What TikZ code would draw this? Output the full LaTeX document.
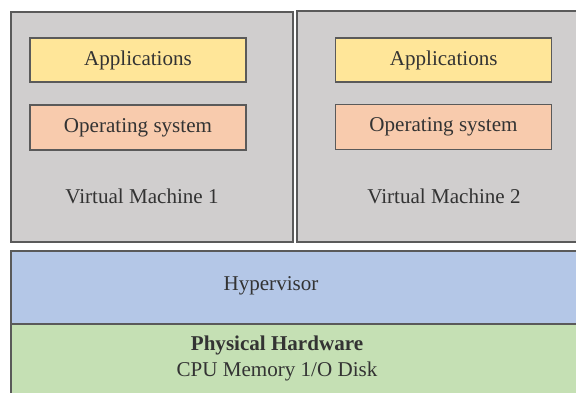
\documentclass[tikz,border=0pt]{standalone}
\usepackage{fontspec}
\setmainfont{Liberation Serif}
\definecolor{vmgray}{HTML}{D0CECE}
\definecolor{appyellow}{HTML}{FFE699}
\definecolor{ossalmon}{HTML}{F8CBAD}
\definecolor{hvblue}{HTML}{B4C7E7}
\definecolor{hwgreen}{HTML}{C5E0B4}
\definecolor{edgegray}{HTML}{5A5A5A}
\definecolor{inkgray}{HTML}{333333}

\begin{document}
\begin{tikzpicture}[x=0.75pt,y=-0.75pt,
  every node/.style={font=\fontsize{15.8}{19}\selectfont,text=inkgray},
  layer/.style={draw=edgegray,line width=0.9pt,rectangle,inner sep=0pt},
  vmbox/.style={layer,fill=vmgray,minimum width=211.5pt,minimum height=172.5pt},
  appbox/.style={layer,fill=appyellow,minimum width=162pt,minimum height=33pt},
  osbox/.style={layer,fill=ossalmon,minimum width=162pt,minimum height=33.75pt},
  hvbox/.style={layer,fill=hvblue,minimum width=434.25pt,minimum height=54.75pt},
  hwbox/.style={layer,fill=hwgreen,minimum width=434.25pt,minimum height=64.5pt}]
\useasboundingbox (0,0) rectangle (576,393);
\clip (0,0) rectangle (576,393);
% virtual machines
\node[vmbox] (vmA) at (152,127) {};
\node[vmbox,minimum width=220.5pt,minimum height=173.25pt] (vmB) at (444,126.5) {};
\node[appbox] (appA) at (138,60) {Applications};
\node[osbox] (osA) at (138,127.5) {Operating system};
\node (vmAlbl) at (142,196) {Virtual Machine 1};
\node[appbox] (appB) at (443.7,60) {Applications};
\node[osbox] (osB) at (443.5,127) {Operating system};
\node (vmBlbl) at (444,196) {Virtual Machine 2};
% hardware and hypervisor
\node[hwbox] (hw) at (300.5,367) {};
\node[hvbox,line width=1.1pt] (hyper) at (300.5,287.5) {};
\node (hyperlbl) at (271,286) {Hypervisor};
\node (hwtitle) at (277,345) {\bfseries Physical Hardware};
\node (hwparts) at (277,371) {CPU Memory 1/O Disk};
\end{tikzpicture}
\end{document}
